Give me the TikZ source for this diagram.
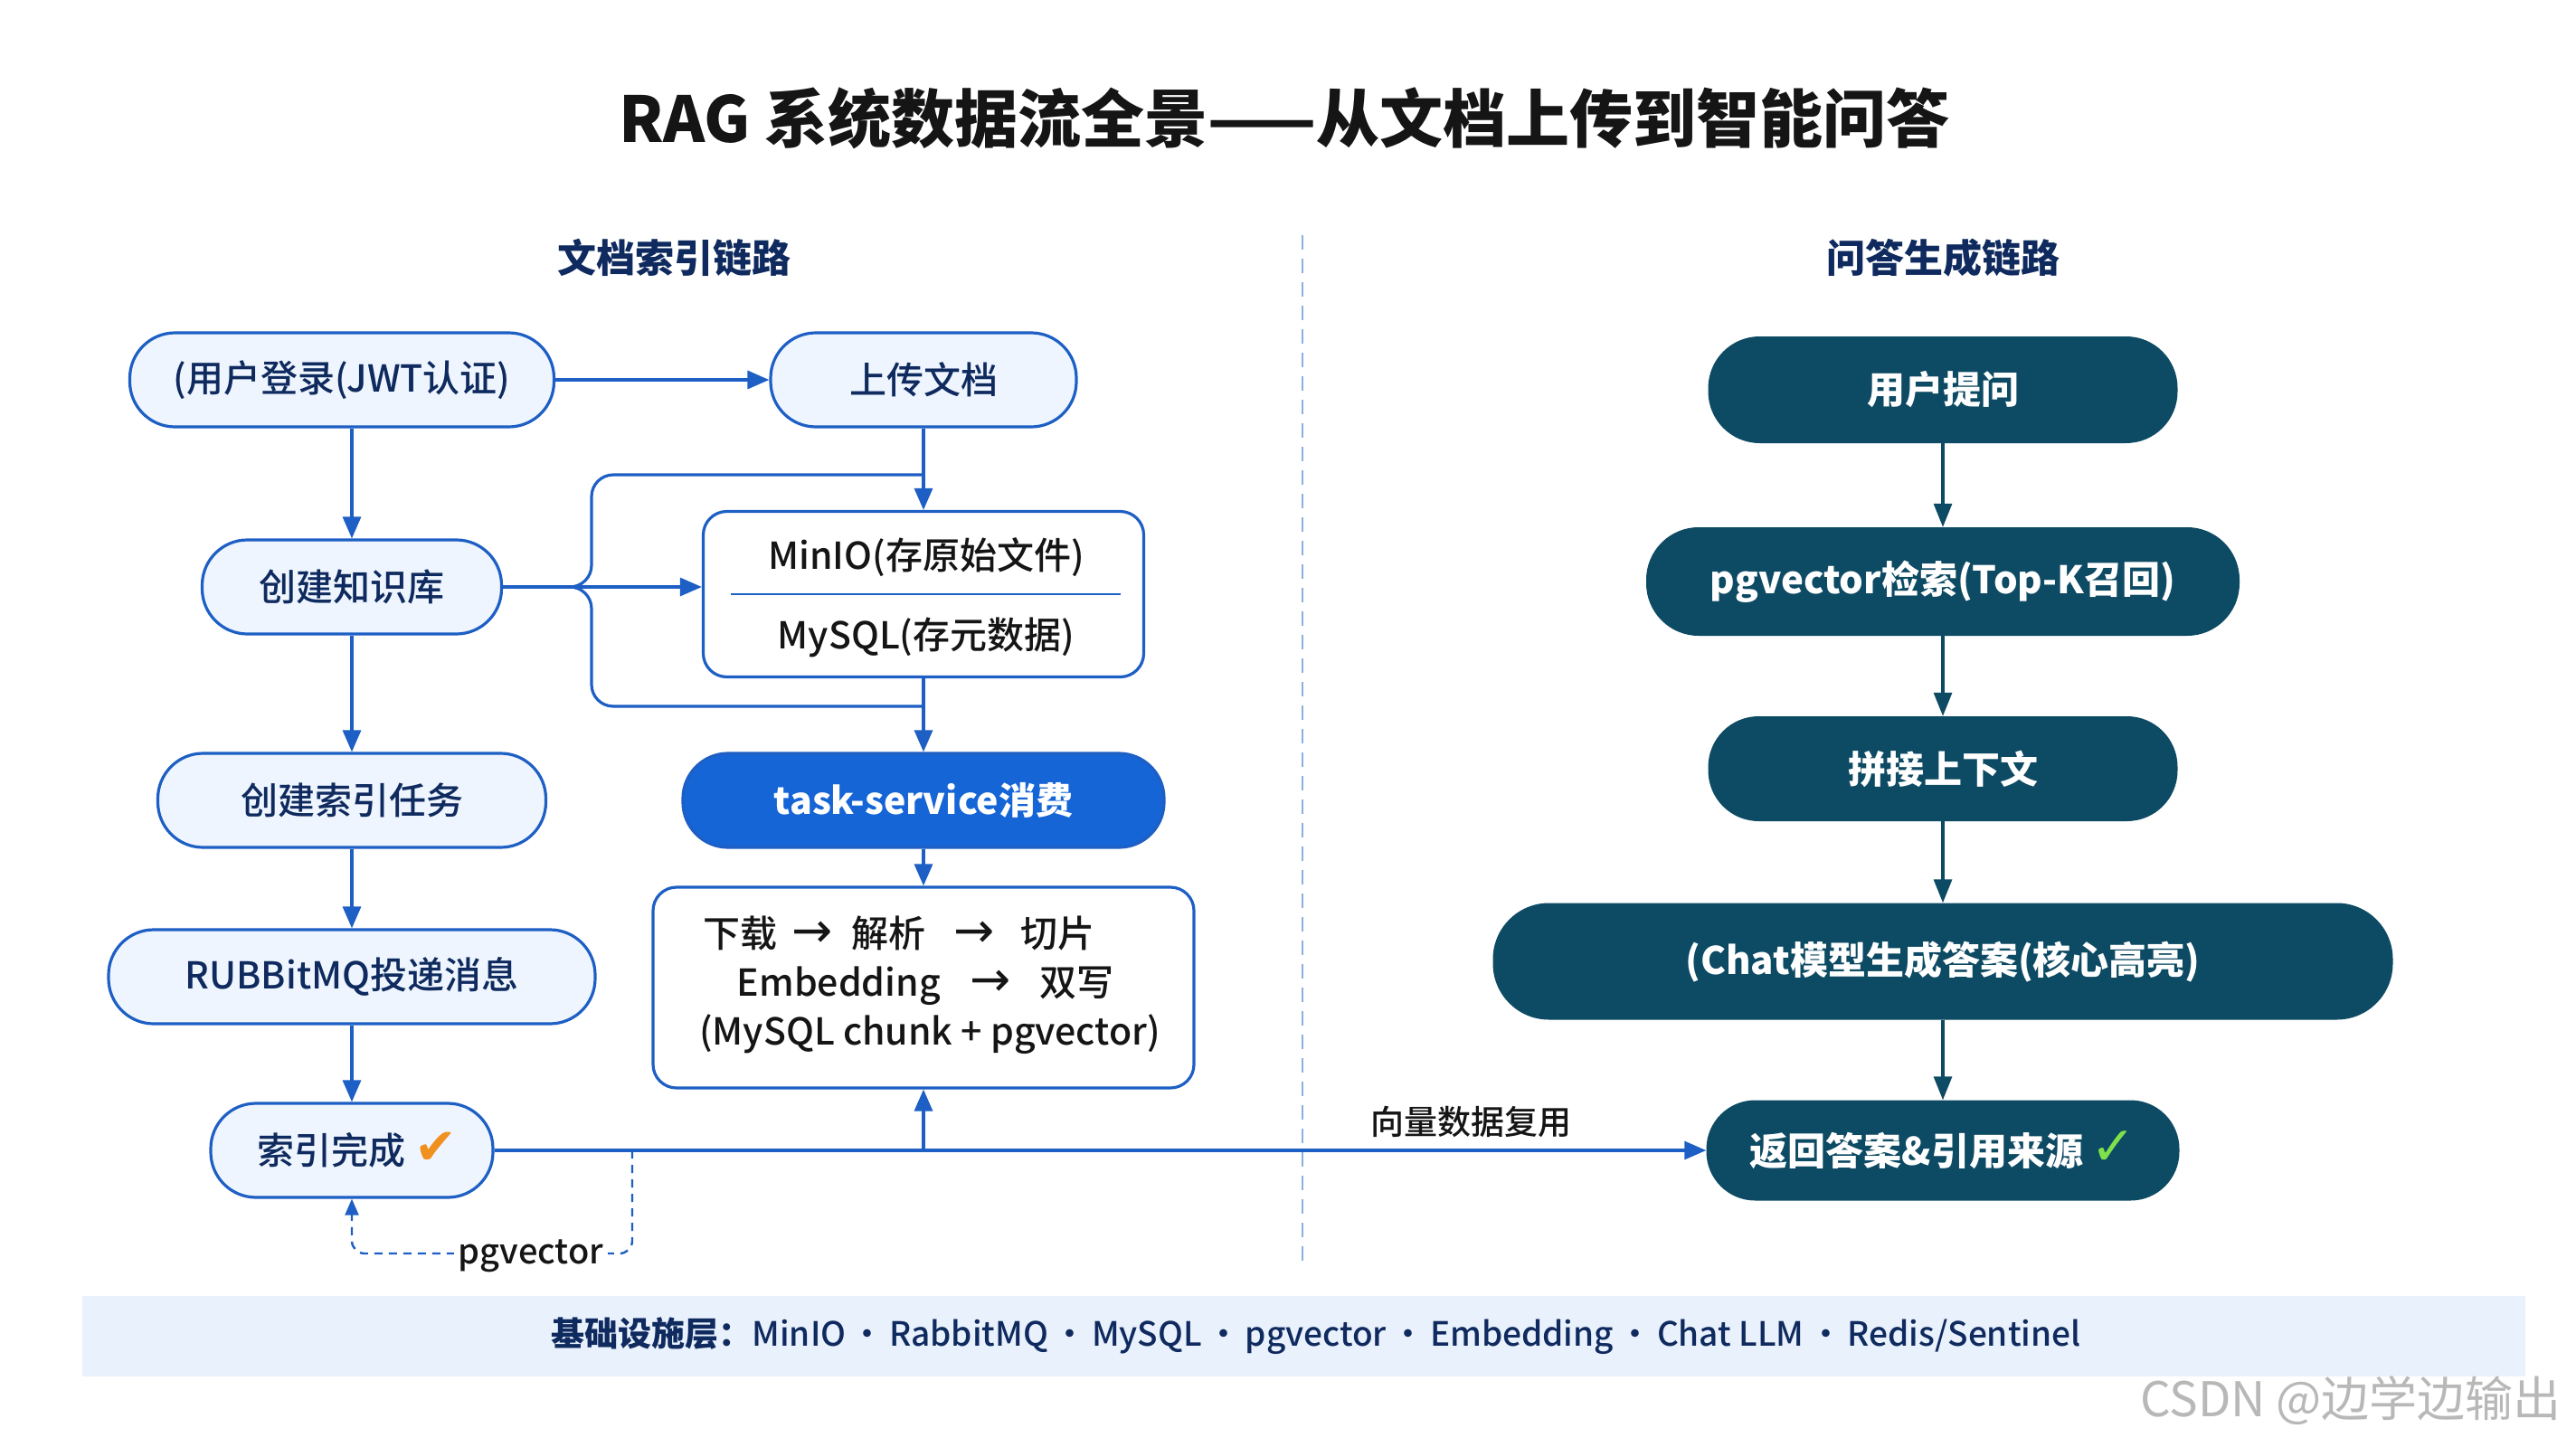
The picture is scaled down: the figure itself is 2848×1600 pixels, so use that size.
\documentclass[tikz,border=0pt]{standalone}
\usepackage{fontspec}
\setmainfont{Noto Sans CJK SC}
\newfontfamily\medfont{Noto Sans CJK SC Medium}
\newfontfamily\blackfont{Noto Sans CJK SC Black}
\newfontfamily\symfont{DejaVu Sans}
\usetikzlibrary{arrows.meta,calc}
\definecolor{lblue}{HTML}{1D5FC4}
\definecolor{lfill}{HTML}{EEF5FE}
\definecolor{navy}{HTML}{0F2A5E}
\definecolor{tblue}{HTML}{1565D6}
\definecolor{dteal}{HTML}{0D4A63}
\definecolor{divc}{HTML}{8DAEE0}
\definecolor{barfill}{HTML}{E9F1FC}
\definecolor{okgreen}{HTML}{7EE04A}
\definecolor{okorange}{HTML}{F0901E}
\definecolor{ink}{HTML}{151515}
\tikzset{
  titlestyle/.style={font=\fontsize{70}{80}\selectfont\blackfont, text=ink, inner sep=0pt},
  substyle/.style={font=\fontsize{43}{50}\selectfont\bfseries, text=navy, inner sep=0pt},
  lnode/.style={draw=lblue, line width=3.2pt, fill=lfill, rounded corners=50pt, text=navy,
    font=\fontsize{41}{49}\selectfont\medfont, minimum height=104pt, inner sep=0pt},
  boxnode/.style={draw=lblue, line width=3.2pt, fill=white, rounded corners=26pt, inner sep=0pt},
  ptext/.style={font=\fontsize{41}{49}\selectfont\medfont, text=ink, inner sep=0pt},
  rnode/.style={fill=dteal, text=white, font=\fontsize{42}{50}\selectfont\bfseries, inner sep=0pt},
  lline/.style={draw=lblue, line width=3.2pt},
  conn/.style={lline, -{Triangle[length=24pt,width=20pt]}},
  tconn/.style={draw=dteal, line width=3.2pt, -{Triangle[length=26pt,width=20pt]}},
  dashconn/.style={draw=lblue, line width=2.4pt, dash pattern=on 9pt off 7pt, -{Triangle[length=18pt,width=15pt]}},
  lbl/.style={font=\fontsize{37}{44}\selectfont\medfont, text=ink, inner sep=0pt},
  divider/.style={draw=divc, line width=2.6pt, dash pattern=on 16pt off 10pt},
}
\newcommand{\arr}{{\symfont\fontsize{54}{54}\selectfont →}}
\newcommand{\dt}{\hspace{5.5pt}·\hspace{5.5pt}}
\begin{document}
\begin{tikzpicture}[x=1pt,y=-1pt]
\useasboundingbox (0,0) rectangle (2848,1600);
\fill[white] (0,0) rectangle (2848,1600);

% title and headings
\node[titlestyle] (title) at (1420,131) {RAG 系统数据流全景——从文档上传到智能问答};
\node[substyle] (subl) at (745,285) {文档索引链路};
\node[substyle] (subr) at (2148,285) {问答生成链路};
\coordinate (dtop) at (1440,260);
\coordinate (dbot) at (1440,1395);
\draw[divider] (dtop) -- (dbot);

% left chain
\node[lnode, minimum width=469pt] (login) at (378,420) {(用户登录(JWT认证)};
\node[lnode, minimum width=338pt] (upload) at (1021,420) {上传文档};
\node[lnode, minimum width=331pt] (kb) at (389,649) {创建知识库};
\node[boxnode, minimum width=487pt, minimum height=183pt] (store) at (1021,657) {};
\node[ptext] (minio) at (1024,616) {MinIO(存原始文件)};
\node[ptext] (mysql) at (1024,705) {MySQL(存元数据)};
\coordinate (sepl) at (808,657);
\coordinate (sepr) at (1239,657);
\draw[draw=lblue, line width=2pt] (sepl) -- (sepr);
\node[lnode, minimum width=429pt] (idx) at (389,885) {创建索引任务};
\node[lnode, fill=tblue, text=white, font=\fontsize{41}{49}\selectfont\bfseries, minimum width=532pt] (consume) at (1021,885) {task-service消费};
\node[lnode, minimum width=538pt] (mq) at (389,1080) {RUBBitMQ投递消息};
\node[boxnode, minimum width=598pt, minimum height=222pt] (proc) at (1021,1092) {};
\node[ptext] (proc1) at (994,1032) {下载\hspace{16pt}\arr\hspace{20pt}解析\hspace{31pt}\arr\hspace{29pt}切片};
\node[ptext] (proc2) at (1023,1090) {Embedding\hspace{33pt}\arr\hspace{31pt}双写};
\node[ptext] (proc3) at (1028,1144) {(MySQL chunk + pgvector)};
\node[lnode, minimum width=312pt] (done) at (389,1272) {\hspace{12pt}索引完成\hspace{10pt}{\symfont\bfseries\fontsize{56}{56}\selectfont\color{okorange}✔}};

% left connectors
\draw[conn] (login) -- (upload);
\draw[conn] (kb.north |- login.south) -- (kb.north);
\draw[conn] (upload) -- (store);
\draw[conn] (kb.east) -- (kb.east -| store.west);
\coordinate (bk) at (654,649);
\coordinate (bt) at (654,525);
\coordinate (bb) at (654,781);
\coordinate (jt) at (1021,525);
\coordinate (jb) at (1021,781);
\coordinate (kn) at (627,649);
\draw[lline, rounded corners=24pt] (kb.east) -- (bk) -- (bt) -- (jt);
\draw[lline, rounded corners=24pt] (kn) -- (bk) -- (bb) -- (jb);
\draw[conn] (store) -- (consume);
\draw[conn] (consume) -- (proc);
\draw[conn] (kb) -- (idx);
\draw[conn] (idx) -- (mq);
\draw[conn] (mq) -- (done);

% right chain
\node[rnode, minimum width=519pt, minimum height=118pt, rounded corners=57pt] (ask) at (2148,431) {用户提问};
\node[rnode, minimum width=656pt, minimum height=120pt, rounded corners=58pt] (retr) at (2148,643) {pgvector检索(Top-K召回)};
\node[rnode, minimum width=519pt, minimum height=116pt, rounded corners=56pt] (ctx) at (2148,850) {拼接上下文};
\node[rnode, minimum width=995pt, minimum height=129pt, rounded corners=62pt] (chat) at (2148,1063) {(Chat模型生成答案(核心高亮)};
\node[rnode, minimum width=523pt, minimum height=111pt, rounded corners=54pt] (answer) at (2148,1272) {返回答案\&引用来源\hspace{8pt}{\symfont\bfseries\fontsize{60}{60}\selectfont\color{okgreen}✓}};
\draw[tconn] (ask) -- (retr);
\draw[tconn] (retr) -- (ctx);
\draw[tconn] (ctx) -- (chat);
\draw[tconn] (chat) -- (answer);

% cross connector
\draw[conn] (done) -- (answer);
\coordinate (vj) at (proc.south |- done.east);
\draw[conn] (vj) -- (proc.south);
\node[lbl] (reuse) at (1626,1241) {向量数据复用};

% dashed pgvector loop
\coordinate (d1) at (699,1272);
\coordinate (d2) at (699,1386);
\coordinate (d3) at (389,1386);
\draw[dashconn, rounded corners=14pt] (d1) -- (d2) -- (d3) -- (done.south);
\node[lbl, fill=white, inner sep=5pt, font=\fontsize{38}{44}\selectfont\medfont] (pgv) at (587,1389) {pgvector};

% infrastructure bar
\node[fill=barfill, minimum width=2701pt, minimum height=89pt, inner sep=0pt] (bar) at (1441,1477) {};
\node[font=\fontsize{37}{44}\selectfont\medfont, text=navy, inner sep=0pt] (infra) at (1455,1477) {{\bfseries 基础设施层：}MinIO\dt RabbitMQ\dt MySQL\dt pgvector\dt Embedding\dt Chat LLM\dt Redis/Sentinel};

% watermark
\node[font=\fontsize{53}{60}\selectfont, text=black!28, inner sep=0pt] (wm) at (2599,1549) {CSDN @边学边输出};
\end{tikzpicture}
\end{document}
